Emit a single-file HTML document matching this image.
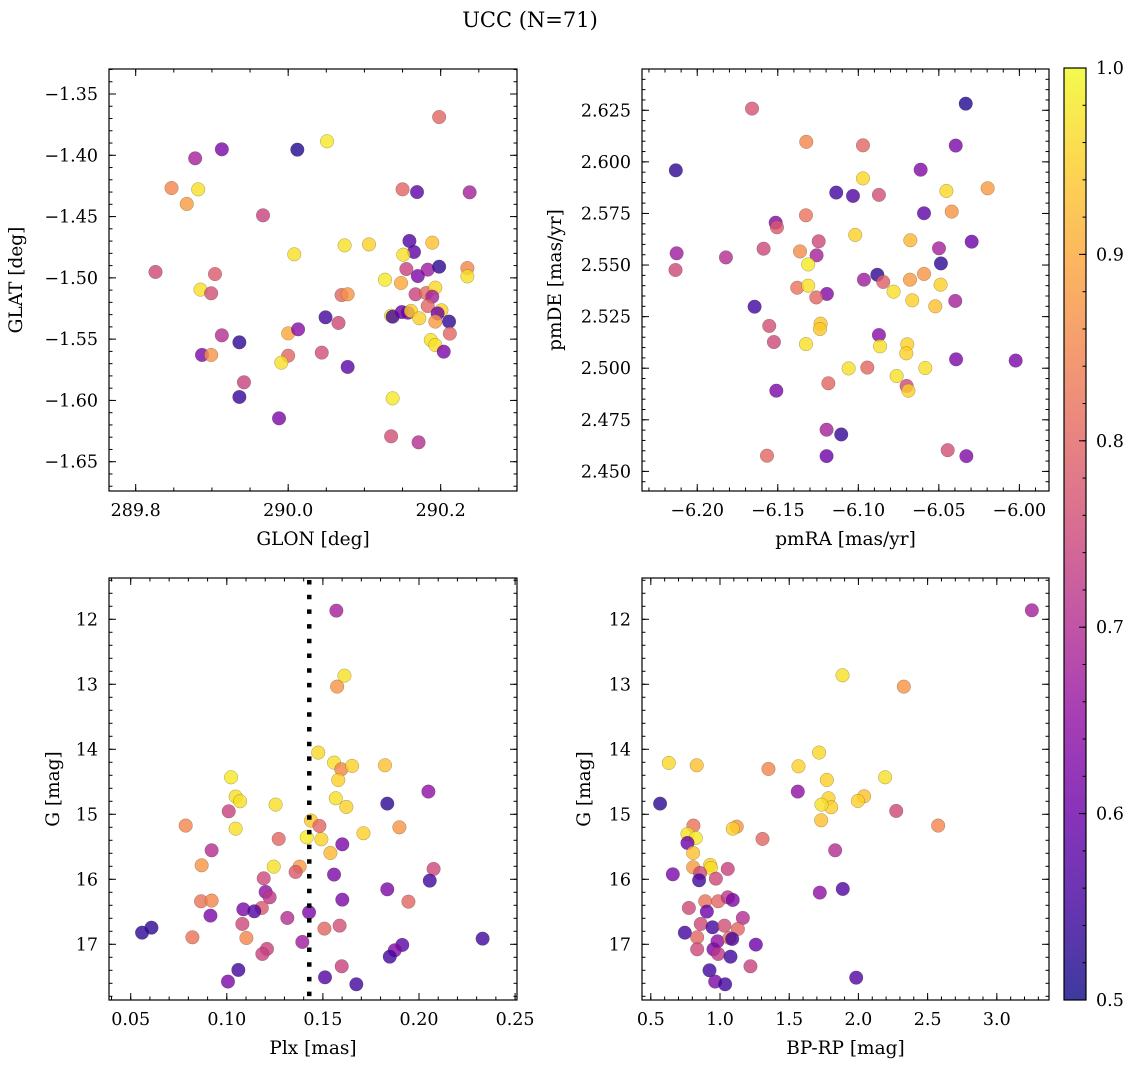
<!DOCTYPE html>
<html><head><meta charset="utf-8"><title>UCC (N=71)</title>
<style>
html,body{margin:0;padding:0;background:#fff;}
svg{display:block;font-family:"DejaVu Serif","Liberation Serif",serif;}
</style></head>
<body>
<svg id="fig" width="1136" height="1068" viewBox="0 0 1136 1068" xmlns="http://www.w3.org/2000/svg">
<defs>
<linearGradient id="plasmaGrad" x1="0" y1="1" x2="0" y2="0">
<stop offset="0" stop-color="#0d0887"/><stop offset="0.1" stop-color="#41049d"/><stop offset="0.2" stop-color="#6a00a8"/><stop offset="0.3" stop-color="#8f0da4"/><stop offset="0.4" stop-color="#b12a90"/><stop offset="0.5" stop-color="#cc4778"/><stop offset="0.6" stop-color="#e16462"/><stop offset="0.7" stop-color="#f2844b"/><stop offset="0.8" stop-color="#fca636"/><stop offset="0.9" stop-color="#fcce25"/><stop offset="1" stop-color="#f0f921"/>
</linearGradient>
</defs>
<text x="530" y="27" font-size="21" text-anchor="middle">UCC (N=71)</text>
</svg>
<script>
// ---------- Panel 1: GLON vs GLAT ----------
const glon = [289.826,289.847,289.867,289.882,289.878,289.913,290.012,290.051,289.967,289.885,289.899,289.904,289.887,289.899,289.913,289.936,289.942,289.936,289.988,290.008,290.000,290.013,290.000,289.991,290.044,290.049,290.066,290.078,290.070,290.078,290.074,290.106,290.127,290.137,290.135,290.171,290.150,290.169,290.198,290.238,290.159,290.165,290.151,290.189,290.155,290.183,290.170,290.198,290.235,290.235,290.148,290.167,290.181,290.193,290.189,290.183,290.135,290.137,290.149,290.157,290.161,290.172,290.201,290.196,290.193,290.211,290.212,290.187,290.193,290.204];
const glat = [-1.4952,-1.4267,-1.4397,-1.4278,-1.4025,-1.3951,-1.3954,-1.3886,-1.449,-1.5096,-1.5126,-1.4969,-1.5629,-1.5629,-1.5469,-1.5526,-1.5852,-1.5972,-1.6146,-1.4808,-1.5453,-1.542,-1.5635,-1.5692,-1.561,-1.5322,-1.5368,-1.5727,-1.514,-1.5134,-1.4735,-1.4727,-1.5015,-1.5983,-1.6293,-1.6342,-1.4278,-1.43,-1.3688,-1.4302,-1.4699,-1.4789,-1.4811,-1.4713,-1.4928,-1.4933,-1.4985,-1.4909,-1.492,-1.4988,-1.5042,-1.5134,-1.5124,-1.508,-1.5154,-1.523,-1.5309,-1.5317,-1.5279,-1.5284,-1.527,-1.533,-1.5265,-1.529,-1.5357,-1.5357,-1.5455,-1.5507,-1.5548,-1.5602];
const prob1 = [.75,.85,.88,.97,.68,.62,.52,.98,.74,.97,.76,.78,.62,.87,.70,.53,.74,.54,.62,.97,.9,.64,.8,.97,.76,.55,.75,.58,.8,.87,.97,.95,.98,.98,.76,.7,.8,.58,.8,.68,.57,.58,.97,.93,.74,.67,.62,.53,.85,.97,.9,.74,.81,.96,.68,.8,.98,.55,.6,.6,.95,.95,.95,.6,.88,.53,.8,.97,.97,.62];
const glonTicks = [289.8,290.0,290.2];
const glonLabels = ["289.8","290.0","290.2"];
const glatTicks = [-1.35,-1.40,-1.45,-1.50,-1.55,-1.60,-1.65];
const glatLabels = ["\u22121.35","\u22121.40","\u22121.45","\u22121.50","\u22121.55","\u22121.60","\u22121.65"];

// ---------- Panel 2: pmRA vs pmDE ----------
const pmra = [-6.166,-6.0333,-6.1323,-6.0971,-6.0395,-6.2133,-6.0613,-6.0971,-6.0453,-6.0197,-6.1137,-6.1033,-6.0872,-6.0592,-6.042,-6.1325,-6.1513,-6.1505,-6.1019,-6.0677,-6.0296,-6.1246,-6.2128,-6.2135,-6.1822,-6.1588,-6.1362,-6.1259,-6.1311,-6.0499,-6.0487,-6.0882,-6.0965,-6.0845,-6.0679,-6.0592,-6.0489,-6.1379,-6.1311,-6.1195,-6.1261,-6.0781,-6.0665,-6.0522,-6.0398,-6.1644,-6.1553,-6.1524,-6.1234,-6.1238,-6.1325,-6.0872,-6.0865,-6.0696,-6.0702,-6.0393,-6.0023,-6.106,-6.0944,-6.0584,-6.0762,-6.07,-6.0689,-6.1509,-6.1186,-6.1197,-6.1106,-6.1567,-6.1197,-6.0445,-6.0329];
const pmde = [2.6258,2.6282,2.6097,2.608,2.6079,2.5959,2.5962,2.592,2.5859,2.5872,2.5851,2.5835,2.584,2.5751,2.5759,2.5741,2.5705,2.5683,2.5646,2.562,2.5613,2.5615,2.5557,2.5476,2.5537,2.5579,2.5566,2.5547,2.5503,2.5581,2.5508,2.5453,2.5429,2.5418,2.5429,2.5457,2.5405,2.539,2.54,2.536,2.5343,2.5371,2.5329,2.53,2.5326,2.5298,2.5205,2.5127,2.5216,2.519,2.5117,2.5161,2.5106,2.5116,2.5072,2.5043,2.5037,2.4999,2.5003,2.5001,2.4962,2.4914,2.4891,2.4891,2.4927,2.4702,2.4679,2.4576,2.4574,2.4603,2.4574];
const prob2 = [.77,.52,.85,.8,.62,.53,.63,.96,.96,.88,.55,.57,.76,.58,.87,.82,.63,.78,.95,.92,.6,.75,.67,.75,.7,.75,.86,.68,.98,.68,.53,.53,.67,.79,.88,.87,.95,.82,.97,.63,.8,.97,.95,.93,.68,.55,.76,.75,.94,.94,.97,.64,.97,.95,.95,.62,.62,.97,.8,.97,.97,.75,.95,.62,.8,.68,.54,.8,.6,.76,.63];
const pmraTicks = [-6.20,-6.15,-6.10,-6.05,-6.00];
const pmraLabels = ["\u22126.20","\u22126.15","\u22126.10","\u22126.05","\u22126.00"];
const pmdeTicks = [2.625,2.600,2.575,2.550,2.525,2.500,2.475,2.450];
const pmdeLabels = ["2.625","2.600","2.575","2.550","2.525","2.500","2.475","2.450"];

// ---------- Panel 3: Plx vs G ----------
const plx = [0.157,0.1612,0.1574,0.1476,0.1558,0.1596,0.1652,0.158,0.1823,0.2049,0.1835,0.1567,0.1622,0.1022,0.1046,0.1069,0.101,0.1254,0.0786,0.1046,0.127,0.1438,0.1482,0.1416,0.1492,0.1711,0.1898,0.1601,0.1539,0.0921,0.0869,0.1244,0.1379,0.1358,0.1192,0.1558,0.2076,0.2056,0.1835,0.1202,0.1223,0.1601,0.1945,0.0866,0.0921,0.1182,0.1086,0.1143,0.0915,0.1315,0.1428,0.1081,0.1508,0.1587,0.0608,0.0559,0.0821,0.1102,0.1393,0.1913,0.1874,0.1848,0.2331,0.1209,0.1185,0.1598,0.106,0.1511,0.1006,0.1674];
const gmag3 = [11.867,12.867,13.036,14.051,14.205,14.308,14.256,14.472,14.246,14.651,14.836,14.754,14.887,14.431,14.728,14.8,14.954,14.851,15.174,15.221,15.379,15.097,15.179,15.354,15.385,15.292,15.2,15.462,15.595,15.554,15.785,15.805,15.805,15.887,15.985,15.928,15.841,16.021,16.154,16.195,16.277,16.313,16.344,16.338,16.328,16.441,16.462,16.492,16.559,16.595,16.508,16.687,16.759,16.713,16.744,16.821,16.892,16.903,16.964,17.01,17.092,17.19,16.913,17.072,17.149,17.338,17.395,17.508,17.574,17.615];
const prob3 = [.68,.97,.87,.96,.97,.85,.95,.95,.93,.65,.53,.97,.95,.98,.97,.97,.74,.97,.85,.97,.8,.94,.8,.98,.95,.95,.87,.62,.92,.7,.87,.97,.88,.78,.75,.62,.75,.55,.62,.65,.72,.62,.8,.82,.85,.78,.62,.57,.62,.7,.62,.75,.8,.76,.53,.53,.82,.85,.67,.58,.63,.55,.55,.74,.74,.74,.55,.57,.62,.55];
const plxTicks = [0.05,0.10,0.15,0.20,0.25];
const plxLabels = ["0.05","0.10","0.15","0.20","0.25"];
const plxMedian = [0.1429];
const gTicks = [12,13,14,15,16,17];
const gLabels = ["12","13","14","15","16","17"];

// ---------- Panel 4: BP-RP vs G ----------
const bprp = [3.253,1.885,2.328,1.716,0.630,0.832,1.350,1.567,1.772,2.193,1.562,0.567,1.784,1.803,1.733,2.041,1.996,2.273,1.731,2.576,1.121,1.092,1.307,0.808,0.765,0.825,0.765,0.806,1.832,0.806,0.929,0.934,0.659,0.856,1.056,0.849,0.970,1.721,1.887,0.893,0.987,1.056,1.092,0.775,0.905,1.165,0.861,0.946,1.032,1.129,0.746,0.835,0.982,1.068,1.088,1.259,0.835,0.953,0.987,1.076,1.220,0.924,0.965,1.037,1.984];
const gmag4 = [11.862,12.862,13.036,14.051,14.21,14.246,14.303,14.262,14.472,14.431,14.651,14.836,14.754,14.892,14.851,14.723,14.795,14.949,15.092,15.174,15.19,15.221,15.379,15.174,15.303,15.364,15.441,15.595,15.554,15.815,15.779,15.826,15.923,15.903,15.841,16.015,15.99,16.205,16.149,16.338,16.338,16.277,16.318,16.441,16.497,16.595,16.687,16.738,16.713,16.764,16.821,16.892,16.954,16.903,16.918,17.005,17.077,17.077,17.149,17.19,17.338,17.4,17.574,17.615,17.513];
const prob4 = [.68,.97,.87,.96,.96,.93,.85,.95,.95,.97,.65,.53,.95,.95,.97,.93,.95,.75,.93,.85,.87,.95,.8,.82,.97,.98,.6,.93,.7,.88,.95,.97,.62,.75,.74,.55,.75,.65,.57,.82,.8,.72,.62,.75,.6,.7,.75,.55,.76,.8,.55,.8,.65,.82,.55,.6,.75,.62,.72,.55,.74,.55,.62,.55,.57];
const bprpTicks = [0.5,1.0,1.5,2.0,2.5,3.0];
const bprpLabels = ["0.5","1.0","1.5","2.0","2.5","3.0"];

// ---------- Colorbar ----------
const cbTicks = [0.5,0.6,0.7,0.8,0.9,1.0];
const cbLabels = ["0.5","0.6","0.7","0.8","0.9","1.0"];

const NS = "http://www.w3.org/2000/svg";
const svg = document.getElementById('fig');
const TICK_FS = 17.5, TITLE_FS = 18.5;
const plasmaStops = [[13,8,135],[65,4,157],[106,0,168],[143,13,164],[177,42,144],[204,71,120],[225,100,98],[242,132,75],[252,166,54],[252,206,37],[240,249,33]];
function plasma(p){
  let t = Math.max(0, Math.min(1, (p - 0.5) / 0.5)) * 10;
  const i = Math.min(9, Math.floor(t)); const f = t - i;
  const a = plasmaStops[i], b = plasmaStops[i+1];
  return 'rgb(' + [0,1,2].map(k => Math.round(a[k] + (b[k]-a[k])*f)).join(',') + ')';
}
function mk(tag, attrs, parent){
  const e = document.createElementNS(NS, tag);
  for (const k in attrs) e.setAttribute(k, attrs[k]);
  (parent || svg).appendChild(e); return e;
}
function linear(d0, d1, r0, r1){ return v => r0 + (v - d0) / (d1 - d0) * (r1 - r0); }

function panel(cfg){
  const g = mk('g', {});
  
  
  const sx = linear(cfg.xd[0], cfg.xd[1], cfg.L, cfg.R);
  const sy = linear(cfg.yd[0], cfg.yd[1], cfg.B, cfg.T);
  const pts = mk('g', {}, g);
  
  
  for (let i = 0; i < cfg.xs.length; i++){
    const c = mk('circle', {cx: sx(cfg.xs[i]), cy: sy(cfg.ys[i]), r: 6.8, fill: plasma(cfg.ps[i]), 'fill-opacity': 0.8, stroke: 'rgba(60,60,40,0.45)', 'stroke-width': 0.5}, pts);
    
    
  }
  if (cfg.extra) cfg.extra(g, sx, sy);
  const fr = mk('rect', {x: cfg.L, y: cfg.T, width: cfg.R - cfg.L, height: cfg.B - cfg.T, fill: 'none', stroke: '#000', 'stroke-width': 1.2}, g);
  
  
  const tk = mk('g', {stroke: '#000', 'stroke-width': 1}, g);
  const xmin = Math.min(cfg.xd[0], cfg.xd[1]), xmax = Math.max(cfg.xd[0], cfg.xd[1]);
  for (let v = Math.ceil(xmin / cfg.xminor - 1e-6) * cfg.xminor; v <= xmax + 1e-9; v += cfg.xminor){
    const x = sx(v);
    mk('line', {x1: x, x2: x, y1: cfg.B, y2: cfg.B - 3.5}, tk);
    mk('line', {x1: x, x2: x, y1: cfg.T, y2: cfg.T + 3.5}, tk);
  }
  cfg.xt.forEach((v, i) => {
    const x = sx(v);
    mk('line', {x1: x, x2: x, y1: cfg.B, y2: cfg.B - 7}, tk);
    mk('line', {x1: x, x2: x, y1: cfg.T, y2: cfg.T + 7}, tk);
    const t = mk('text', {x: x, y: cfg.B + 25, 'font-size': TICK_FS, 'text-anchor': 'middle'}, g);
    t.textContent = cfg.xl[i];
    
    
  });
  const ymin = Math.min(cfg.yd[0], cfg.yd[1]), ymax = Math.max(cfg.yd[0], cfg.yd[1]);
  for (let v = Math.ceil(ymin / cfg.yminor - 1e-6) * cfg.yminor; v <= ymax + 1e-9; v += cfg.yminor){
    const y = sy(v);
    mk('line', {y1: y, y2: y, x1: cfg.L, x2: cfg.L + 3.5}, tk);
    mk('line', {y1: y, y2: y, x1: cfg.R, x2: cfg.R - 3.5}, tk);
  }
  cfg.yt.forEach((v, i) => {
    const y = sy(v);
    mk('line', {y1: y, y2: y, x1: cfg.L, x2: cfg.L + 7}, tk);
    mk('line', {y1: y, y2: y, x1: cfg.R, x2: cfg.R - 7}, tk);
    const t = mk('text', {x: cfg.L - 11, y: y + 6, 'font-size': TICK_FS, 'text-anchor': 'end'}, g);
    t.textContent = cfg.yl[i];
    
    
  });
  const xt = mk('text', {x: (cfg.L + cfg.R) / 2, y: cfg.B + 54, 'font-size': TITLE_FS, 'text-anchor': 'middle'}, g);
  xt.textContent = cfg.xtitle;
  
  
  const yc = (cfg.T + cfg.B) / 2;
  const yt = mk('text', {x: cfg.ylx, y: yc, 'font-size': TITLE_FS, 'text-anchor': 'middle', transform: 'rotate(-90 ' + cfg.ylx + ' ' + yc + ')', 'dominant-baseline': 'middle'}, g);
  yt.textContent = cfg.ytitle;
  
  
}

panel({name: 'glon-glat-panel', L: 109, R: 517, T: 69, B: 491, xd: [289.765, 290.3001], yd: [-1.6739, -1.3296],
  xs: glon, ys: glat, ps: prob1, xt: glonTicks, xl: glonLabels, yt: glatTicks, yl: glatLabels,
  xminor: 0.05, yminor: 0.01, xtitle: 'GLON [deg]', ytitle: 'GLAT [deg]', ylx: 17});
panel({name: 'pm-panel', L: 642, R: 1049, T: 69, B: 491, xd: [-6.2343, -5.9816], yd: [2.4405, 2.645],
  xs: pmra, ys: pmde, ps: prob2, xt: pmraTicks, xl: pmraLabels, yt: pmdeTicks, yl: pmdeLabels,
  xminor: 0.01, yminor: 0.005, xtitle: 'pmRA [mas/yr]', ytitle: 'pmDE [mas/yr]', ylx: 556});
panel({name: 'plx-g-panel', L: 109, R: 517, T: 578, B: 1000, xd: [0.0387, 0.251], yd: [17.857, 11.365],
  xs: plx, ys: gmag3, ps: prob3, xt: plxTicks, xl: plxLabels, yt: gTicks, yl: gLabels,
  xminor: 0.01, yminor: 0.2, xtitle: 'Plx [mas]', ytitle: 'G [mag]', ylx: 54,
  extra: (g, sx, sy) => {
    plxMedian.forEach(v => {
      const l = mk('line', {x1: sx(v), x2: sx(v), y1: 580, y2: 1000, stroke: '#000', 'stroke-width': 4.5, 'stroke-dasharray': '4.5 10.2'}, g);
      
      
    });
  }});
panel({name: 'cmd-panel', L: 642, R: 1049, T: 578, B: 1000, xd: [0.4364, 3.377], yd: [17.857, 11.365],
  xs: bprp, ys: gmag4, ps: prob4, xt: bprpTicks, xl: bprpLabels, yt: gTicks, yl: gLabels,
  xminor: 0.1, yminor: 0.2, xtitle: 'BP-RP [mag]', ytitle: 'G [mag]', ylx: 585});

(function(){
  const g = mk('g', {});
  
  
  const L = 1064, R = 1086, T = 68, B = 1000;
  const sy = linear(0.5, 1.0, B, T);
  mk('rect', {x: L, y: T, width: R - L, height: B - T, fill: 'url(#plasmaGrad)', 'fill-opacity': 0.8}, g);
  mk('rect', {x: L, y: T, width: R - L, height: B - T, fill: 'none', stroke: '#000', 'stroke-width': 1.2}, g);
  for (let v = 0.52; v < 1.0; v += 0.02){
    mk('line', {x1: R, x2: R - 3.5, y1: sy(v), y2: sy(v), stroke: '#000', 'stroke-width': 1}, g);
  }
  cbTicks.forEach((v, i) => {
    mk('line', {x1: R, x2: R - 7, y1: sy(v), y2: sy(v), stroke: '#000', 'stroke-width': 1}, g);
    const t = mk('text', {x: 1096, y: sy(v) + 6, 'font-size': TICK_FS}, g);
    t.textContent = cbLabels[i];
    
    
  });
})();
</script>
</body></html>
